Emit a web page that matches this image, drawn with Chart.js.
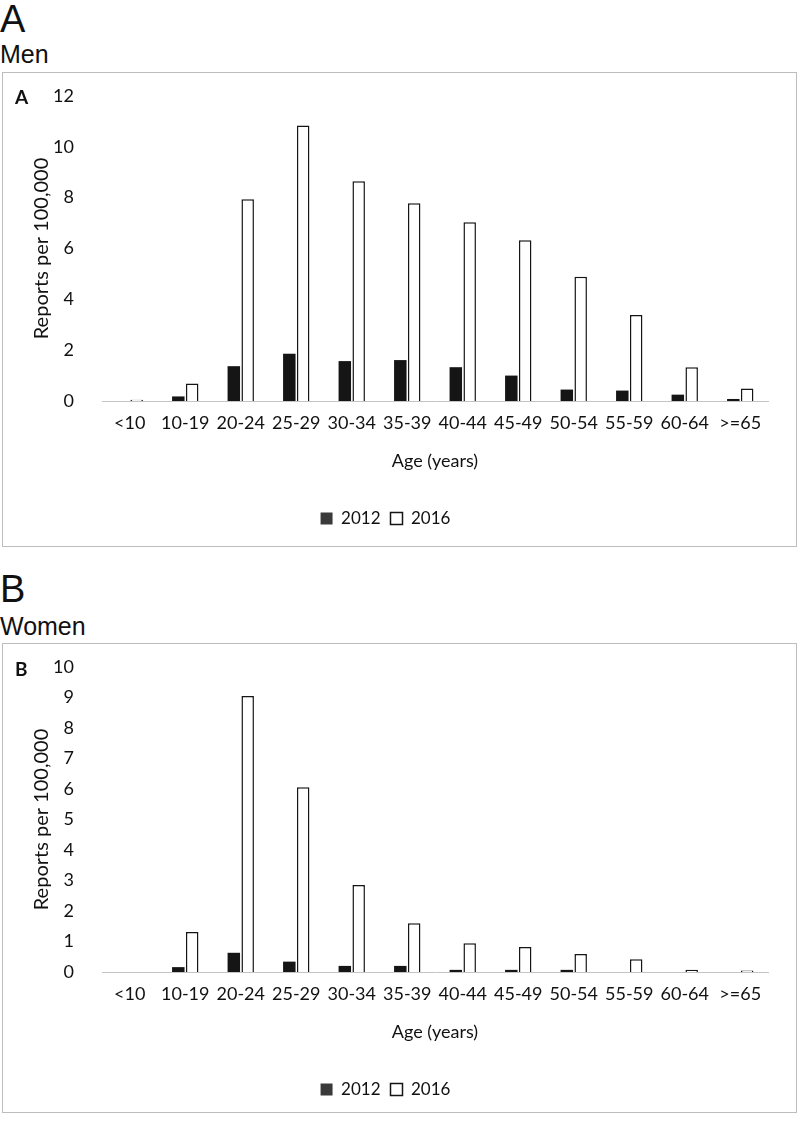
<!DOCTYPE html>
<html>
<head>
<meta charset="utf-8">
<script src="https://cdn.jsdelivr.net/npm/chart.js"></script>
<style>
  body { margin: 0; background: #fff; }
  #page { position: relative; width: 800px; height: 1123px; overflow: hidden; font-family: "Liberation Sans", Arial, sans-serif; color: #111; }
  .big { position: absolute; left: 0; font-size: 38px; line-height: 1; }
  .sub { position: absolute; left: 0; font-size: 25px; line-height: 1; }
  .box { position: absolute; left: 2px; width: 793px; border: 1px solid #bdbdbd; }
  .box canvas { position: absolute; left: 0; top: 0; }
  .tag { position: absolute; left: 12px; font-family: Lato, sans-serif; font-weight: bold; font-size: 19px; line-height: 1; }
</style>
</head>
<body>
<div id="page">
  <div class="big" style="top:0px">A</div>
  <div class="sub" style="top:42px">Men</div>
  <div class="box" style="top:72px;height:473px">
    <canvas id="menChart" width="793" height="473"></canvas>
    <div class="tag" style="top:14px">A</div>
  </div>

  <div class="big" style="top:570px">B</div>
  <div class="sub" style="top:614px">Women</div>
  <div class="box" style="top:643px;height:468px">
    <canvas id="womenChart" width="793" height="468"></canvas>
    <div class="tag" style="top:15px">B</div>
  </div>
</div>

<script>
const ageGroups = ["<10", "10-19", "20-24", "25-29", "30-34", "35-39", "40-44", "45-49", "50-54", "55-59", "60-64", ">=65"];
const seriesNames = ["2012", "2016"];

// Men, reports per 100,000
const men2012 = [0, 0.18, 1.37, 1.86, 1.57, 1.61, 1.33, 1.0, 0.45, 0.41, 0.25, 0.08];
const men2016 = [0.05, 0.69, 7.94, 10.84, 8.65, 7.78, 7.03, 6.32, 4.89, 3.38, 1.33, 0.49];
const menTicks = { max: 12, step: 2 };

// Women, reports per 100,000
const women2012 = [0, 0.16, 0.63, 0.34, 0.2, 0.2, 0.07, 0.07, 0.07, 0, 0, 0];
const women2016 = [0, 1.31, 9.05, 6.06, 2.85, 1.6, 0.94, 0.82, 0.59, 0.42, 0.07, 0.05];
const womenTicks = { max: 10, step: 1 };

const tickFont = { family: "Lato", size: 18 };

function drawChart(id, d2012, d2016, yt) {
    var ctx = document.getElementById(id).getContext('2d');
    var h = ctx.canvas.height;
    return new Chart(ctx, {
        type: 'bar',
        data: {
            labels: ageGroups,
            datasets: [{
                label: seriesNames[0],
                data: d2012,
                backgroundColor: '#151515',
                borderColor: '#151515',
                borderWidth: 0,
                barPercentage: 0.9,
                categoryPercentage: 0.5
            },
            {
                label: seriesNames[1],
                data: d2016,
                backgroundColor: '#ffffff',
                borderColor: '#151515',
                borderWidth: 1.5,
                barPercentage: 0.9,
                categoryPercentage: 0.5
            }]
        },
        options: {
            responsive: false,
            animation: false,
            devicePixelRatio: 1,
            layout: {
                padding: { top: 23, right: 28, left: 0, bottom: h - 424 - 40 }
            },
            plugins: {
                tooltip: { enabled: false },
                legend: {
                    position: 'bottom',
                    labels: {
                        color: '#111',
                        font: { family: "Lato", size: 17 },
                        boxWidth: 12,
                        boxHeight: 12,
                        padding: 10,
                        generateLabels: function (chart) {
                            var items = Chart.defaults.plugins.legend.labels.generateLabels(chart);
                            // legend swatch for 2012 is a dark grey in the original
                            items[0].fillStyle = '#3a3a3a';
                            items[0].strokeStyle = '#3a3a3a';
                            return items;
                        }
                    }
                }
            },
            scales: {
                x: {
                    grid: { display: false },
                    border: { display: true, color: '#c4c4c4', width: 1 },
                    ticks: { color: '#111', font: tickFont, padding: 3, maxRotation: 0, autoSkip: false },
                    title: { display: true, text: 'Age (years)', color: '#111', font: { family: "Lato", size: 18 }, padding: { top: 0, bottom: 28 } },
                    afterFit: function (s) { s.height = 99; }
                },
                y: {
                    min: 0,
                    max: yt.max,
                    grid: { display: false },
                    border: { display: false },
                    ticks: { stepSize: yt.step, color: '#111', font: tickFont, padding: 20 },
                    title: { display: true, text: 'Reports per 100,000', color: '#111', font: { family: "Lato", size: 20 }, padding: { top: 27, bottom: 0 } },
                    afterFit: function (s) {
                        s.width = 99;
                        // let layout.padding.top alone place the top of the plot
                        s.paddingTop = 0;
                    }
                }
            }
        }
    });
}

drawChart('menChart', men2012, men2016, menTicks);
drawChart('womenChart', women2012, women2016, womenTicks);
</script>
</body>
</html>
